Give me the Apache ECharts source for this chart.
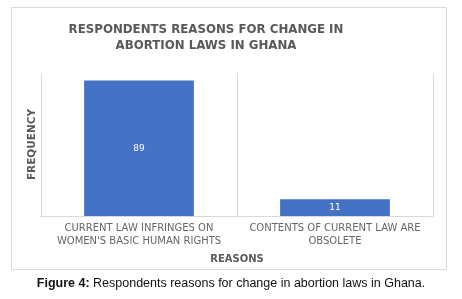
<!DOCTYPE html>
<html>
<head>
<meta charset="utf-8">
<script src="https://cdn.jsdelivr.net/npm/echarts@6/dist/echarts.min.js"></script>
<style>
  html, body { margin: 0; padding: 0; background: #fff; }
  #chart { width: 462px; height: 299px; }
</style>
</head>
<body>
<div id="chart"></div>
<script>
// Reasons for change in abortion laws, Ghana (Figure 4)
const REASONS = [
  'CURRENT LAW INFRINGES ON\nWOMEN\'S BASIC HUMAN RIGHTS',
  'CONTENTS OF CURRENT LAW ARE\nOBSOLETE',
];
const FREQUENCY = [89, 11];

const TITLE = 'RESPONDENTS REASONS FOR CHANGE IN\nABORTION LAWS IN GHANA';
const CAPTION_BOLD = 'Figure 4:';
const CAPTION = ' Respondents reasons for change in abortion laws in Ghana.';

const GREY = '#595959';
const LINE = '#d9d9d9';

const chart = echarts.init(document.getElementById('chart'));

chart.setOption({
  backgroundColor: '#fff',
  animation: false,
  title: {
    text: TITLE,
    left: 201, top: 17,
    textAlign: 'center',
    textStyle: {
      color: GREY, fontFamily: 'DejaVu Sans', fontWeight: 'bold',
      fontSize: 11.8, lineHeight: 16,
    },
  },
  grid: { left: 41, right: 29, top: 73, bottom: 83 },
  xAxis: {
    type: 'category',
    data: REASONS,
    name: 'REASONS',
    nameLocation: 'middle',
    nameGap: 38,
    nameTextStyle: { color: GREY, fontFamily: 'DejaVu Sans', fontWeight: 'bold', fontSize: 10 },
    axisLine: { lineStyle: { color: LINE } },
    axisTick: { show: false },
    splitLine: { show: true, lineStyle: { color: LINE } },
    axisLabel: {
      color: '#666', fontFamily: 'DejaVu Sans', fontSize: 10, lineHeight: 13,
      margin: 6, interval: 0,
    },
  },
  yAxis: {
    type: 'value',
    min: 0, max: 94,
    name: 'FREQUENCY',
    nameLocation: 'middle',
    nameGap: 3,
    nameRotate: 90,
    nameTextStyle: { color: GREY, fontFamily: 'DejaVu Sans', fontWeight: 'bold', fontSize: 10.5 },
    axisLine: { show: false },
    axisTick: { show: false },
    axisLabel: { show: false },
    splitLine: { show: false },
  },
  series: [{
    type: 'bar',
    data: FREQUENCY,
    barWidth: '56%',
    itemStyle: { color: '#4472c4' },
    label: {
      show: true, position: 'inside',
      color: '#fff', fontFamily: 'DejaVu Sans', fontSize: 9,
    },
  }],
  graphic: [
    { type: 'rect', silent: true, z: -1,
      shape: { x: 11.5, y: 7.5, width: 435, height: 262 },
      style: { fill: 'none', stroke: LINE, lineWidth: 1 } },
    { type: 'text', silent: true, left: 'center', top: 277,
      style: {
        text: '{b|' + CAPTION_BOLD + '}' + CAPTION,
        fill: '#111', font: '12.5px "Liberation Sans", Arial, sans-serif',
        rich: { b: { fontWeight: 'bold', fontSize: 12.5, fontFamily: 'Liberation Sans', fill: '#111' } },
      } },
  ],
});
</script>
</body>
</html>
